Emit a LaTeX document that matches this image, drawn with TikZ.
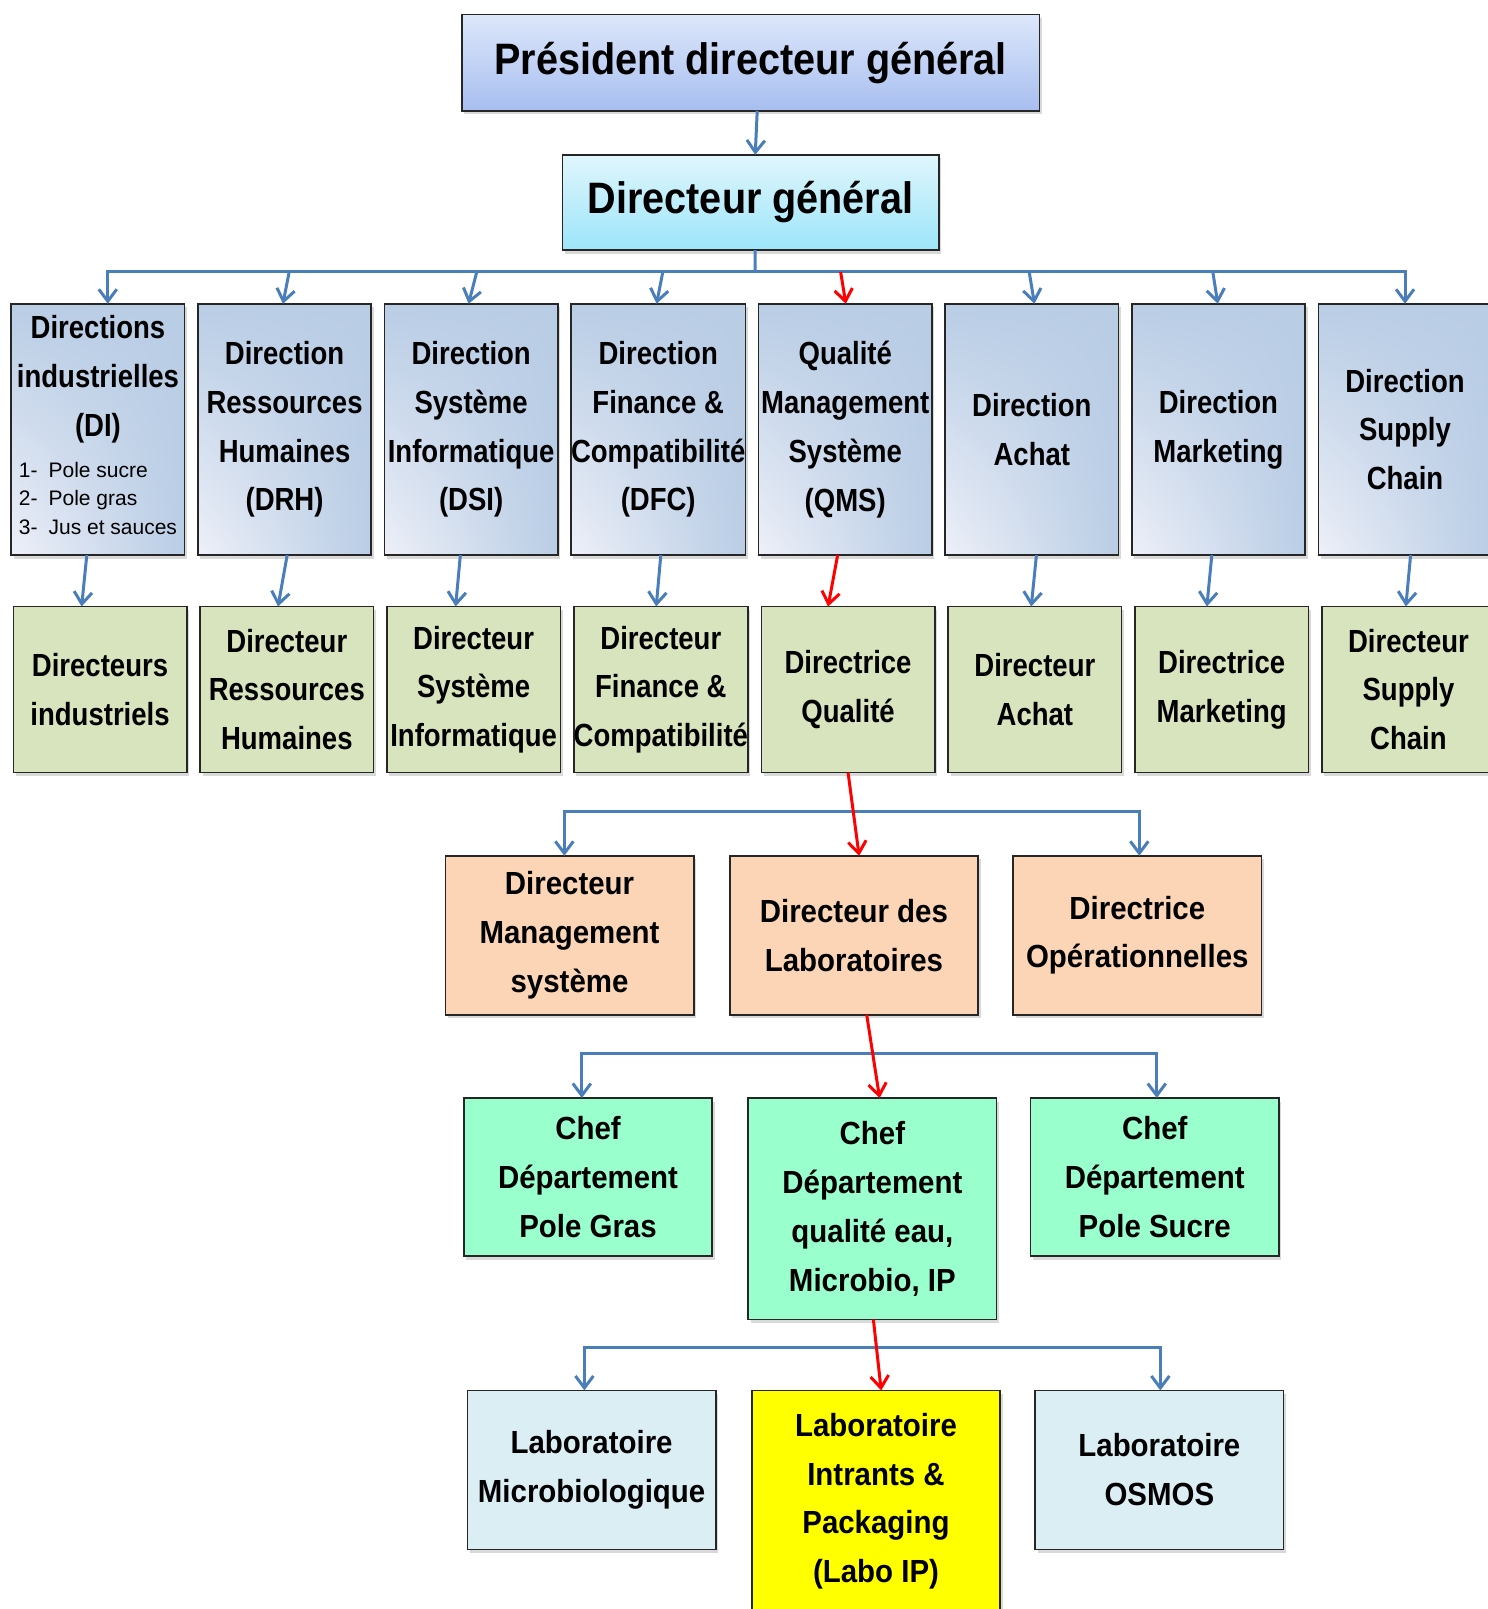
\documentclass[tikz,border=0pt]{standalone}
\usepackage{fontspec}
\setmainfont{Liberation Sans}
\newfontfamily\titlefont[FakeStretch=0.9]{Liberation Sans}
\newfontfamily\narrowfont[FakeStretch=0.86]{Liberation Sans}
\newfontfamily\boxfont[FakeStretch=0.92]{Liberation Sans}
\usetikzlibrary{arrows.meta, positioning, shadows, shadings, calc}
\definecolor{linkblue}{HTML}{4A7EBB}
\definecolor{pdgtop}{HTML}{DDE7FB}
\definecolor{pdgbot}{HTML}{A7BEEF}
\definecolor{dgtop}{HTML}{E0F6FC}
\definecolor{dgbot}{HTML}{9CE5FA}
\definecolor{dirblue}{HTML}{B9CDE5}
\definecolor{dirglow}{HTML}{EEF0F8}
\definecolor{mgrgreen}{HTML}{D7E4BD}
\definecolor{suborange}{HTML}{FBD5B5}
\definecolor{chefgreen}{HTML}{99FFCC}
\definecolor{labblue}{HTML}{DBEEF4}
\definecolor{labyellow}{HTML}{FFFF00}
\tikzset{%
	box/.style={draw=black!85, line width=0.8pt, inner sep=0pt, outer sep=0pt, align=center,%
		drop shadow={shadow xshift=1.2pt, shadow yshift=-1.8pt, opacity=0.3}},
	pdgbox/.style={box, minimum width=288.9pt, minimum height=48.2pt,%
		top color=pdgtop, bottom color=pdgbot, font=\titlefont\bfseries\fontsize{22}{26}\selectfont},
	dgbox/.style={box, minimum width=188.3pt, minimum height=47.7pt,%
		top color=dgtop, bottom color=dgbot, font=\titlefont\bfseries\fontsize{22}{26}\selectfont},
	dirbox/.style={box, minimum width=86.7pt, minimum height=125.7pt,%
		upper left=dirblue, upper right=dirblue, lower right=dirblue, lower left=dirglow,%
		font=\narrowfont\bfseries\fontsize{16}{24.4}\selectfont},
	mgrbox/.style={box, minimum width=86.7pt, minimum height=83.1pt, fill=mgrgreen,%
		font=\narrowfont\bfseries\fontsize{16}{24.4}\selectfont},
	subbox/.style={box, minimum width=124.2pt, minimum height=79.5pt, fill=suborange,%
		font=\boxfont\bfseries\fontsize{16}{24.4}\selectfont},
	chefbox/.style={subbox, minimum height=79pt, fill=chefgreen},
	labbox/.style={subbox, fill=labblue},
	conn/.style={draw=linkblue, line width=1.5pt},
	sel/.style={conn, -{Straight Barb[length=6pt, width=9pt]}},
	crit/.style={sel, draw=red}
}
\begin{document}
\begin{tikzpicture}[x=0.5131pt, y=-0.5131pt]
	\useasboundingbox (0,0) rectangle (1450,1568);
	\clip (0,0) rectangle (1450,1568);

	\node[pdgbox, anchor=north] (pdg) at (731.5,14) {Président directeur général};
	\node[dgbox, below=22pt of pdg] (dg) {Directeur général};

	% directions
	\node[dirbox, anchor=north west] (di) at (11,296) {Directions\\industrielles\\(DI)\\[-4pt]%
		{\normalfont\fontsize{10.5}{14.4}\selectfont\begin{tabular}[t]{@{}l@{}}1-\hspace{5.5pt}Pole sucre\\2-\hspace{5.5pt}Pole gras\\3-\hspace{5.5pt}Jus et sauces\end{tabular}}};
	\node[dirbox, right=6.6pt of di] (drh) {Direction\\Ressources\\Humaines\\(DRH)};
	\node[dirbox, right=6.6pt of drh] (dsi) {Direction\\Système\\Informatique\\(DSI)};
	\node[dirbox, right=6.6pt of dsi] (dfc) {Direction\\Finance \&\\Compatibilité\\(DFC)};
	\node[dirbox, right=6.6pt of dfc] (qms) {Qualité\\Management\\Système\\(QMS)};
	\node[dirbox, right=6.6pt of qms] (achat) {Direction\\Achat};
	\node[dirbox, right=6.6pt of achat] (mkt) {Direction\\Marketing};
	\node[dirbox, right=6.6pt of mkt] (sc) {Direction\\Supply\\Chain};

	% directeurs
	\node[mgrbox, anchor=north west] (ddi) at (13,591) {Directeurs\\industriels};
	\node[mgrbox, right=6.7pt of ddi] (ddrh) {Directeur\\Ressources\\Humaines};
	\node[mgrbox, right=6.7pt of ddrh] (ddsi) {Directeur\\Système\\Informatique};
	\node[mgrbox, right=6.7pt of ddsi] (ddfc) {Directeur\\Finance \&\\Compatibilité};
	\node[mgrbox, right=6.7pt of ddfc] (dq) {Directrice\\Qualité};
	\node[mgrbox, right=6.7pt of dq] (dachat) {Directeur\\Achat};
	\node[mgrbox, right=6.7pt of dachat] (dmkt) {Directrice\\Marketing};
	\node[mgrbox, right=6.7pt of dmkt] (dsc) {Directeur\\Supply\\Chain};

	% qualite
	\node[subbox, anchor=north west] (dms) at (434,834) {Directeur\\Management\\système};
	\node[subbox, right=18pt of dms] (dlab) {Directeur des\\Laboratoires};
	\node[subbox, right=17.5pt of dlab] (dop) {Directrice\\Opérationnelles};

	\node[chefbox, anchor=north west] (cgras) at (452,1070) {Chef\\Département\\Pole Gras};
	\node[chefbox, minimum height=110.8pt, right=18pt of cgras.north east, anchor=north west] (ceau) {Chef\\Département\\qualité eau,\\Microbio, IP};
	\node[chefbox, right=17pt of ceau.north east, anchor=north west] (csucre) {Chef\\Département\\Pole Sucre};

	\node[labbox, anchor=north west] (lmicro) at (455.5,1355) {Laboratoire\\Microbiologique};
	\node[labbox, fill=labyellow, minimum height=110.8pt, right=18pt of lmicro.north east, anchor=north west] (lip) {Laboratoire\\Intrants \&\\Packaging\\(Labo IP)};
	\node[labbox, right=17.5pt of lip.north east, anchor=north west] (losmos) {Laboratoire\\OSMOS};

	% liens
	\coordinate (bus1) at (736,265);
	\coordinate (bus2) at (831.5,791);
	\coordinate (bus3) at (850.5,1027);
	\coordinate (bus4) at (854,1313);

	\draw[sel] ([xshift=3.3pt]pdg.south) -- ([xshift=2.3pt]dg.north);
	\draw[conn] ([xshift=2.3pt]dg.south) -- (bus1);
	\draw[sel] (bus1) -| ([xshift=4.9pt]di.north);
	\draw[sel] (bus1) -| (sc.north);
	\draw[sel] ($(drh.north |- bus1)+(2.3pt,0)$) -- ([xshift=-0.8pt]drh.north);
	\draw[sel] ($(dsi.north |- bus1)+(2.8pt,0)$) -- ([xshift=-1.3pt]dsi.north);
	\draw[sel] ($(dfc.north |- bus1)+(2.3pt,0)$) -- ([xshift=-0.8pt]dfc.north);
	\draw[sel] ($(achat.north |- bus1)+(-1.3pt,0)$) -- ([xshift=1.3pt]achat.north);
	\draw[sel] ($(mkt.north |- bus1)+(-2.8pt,0)$) -- ([xshift=-0.3pt]mkt.north);
	\draw[crit] ($(qms.north |- bus1)+(-2.3pt,0)$) -- ([xshift=0.3pt]qms.north);

	\draw[sel] ([xshift=-5.6pt]di.south) -- ([xshift=-9.2pt]ddi.north);
	\draw[sel] ([xshift=1.3pt]drh.south) -- ([xshift=-4.4pt]ddrh.north);
	\draw[sel] ([xshift=-5.4pt]dsi.south) -- ([xshift=-9pt]ddsi.north);
	\draw[sel] ([xshift=1.3pt]dfc.south) -- ([xshift=-2.3pt]ddfc.north);
	\draw[crit] ([xshift=-3.8pt]qms.south) -- ([xshift=-10pt]dq.north);
	\draw[sel] ([xshift=2.3pt]achat.south) -- ([xshift=-1.8pt]dachat.north);
	\draw[sel] ([xshift=-3.3pt]mkt.south) -- ([xshift=-7.4pt]dmkt.north);
	\draw[sel] ([xshift=2.8pt]sc.south) -- ([xshift=-1.3pt]dsc.north);

	\draw[sel] (bus2) -| ([xshift=-2.6pt]dms.north);
	\draw[sel] (bus2) -| ([xshift=1pt]dop.north);
	\draw[crit] (dq.south) -- ([xshift=2.6pt]dlab.north);

	\draw[sel] (bus3) -| ([xshift=-3.1pt]cgras.north);
	\draw[sel] (bus3) -| ([xshift=1pt]csucre.north);
	\draw[crit] ([xshift=6.4pt]dlab.south) -- ([xshift=3.6pt]ceau.north);

	\draw[sel] (bus4) -| ([xshift=-3.6pt]lmicro.north);
	\draw[sel] (bus4) -| ([xshift=0.5pt]losmos.north);
	\draw[crit] ([xshift=0.5pt]ceau.south) -- ([xshift=2.6pt]lip.north);
\end{tikzpicture}
\end{document}
